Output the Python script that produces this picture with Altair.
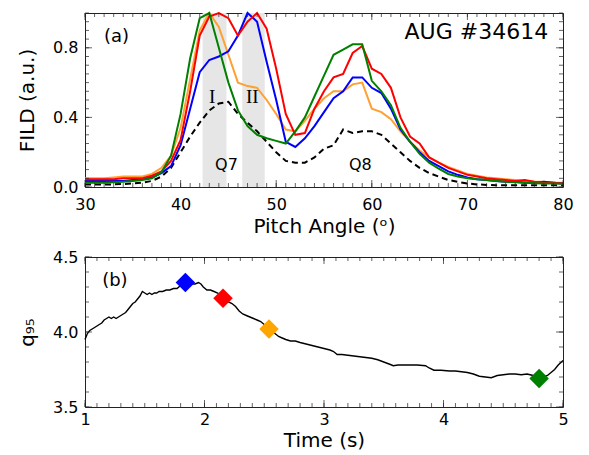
import altair as alt
import pandas as pd

# ---------------- data: panel (a) ----------------
pitch = list(range(30, 81))
blue = [0.035, 0.035, 0.035, 0.035, 0.035, 0.04, 0.045, 0.055, 0.08, 0.12,
        0.24, 0.45, 0.66, 0.73, 0.75, 0.78, 0.87, 1.0, 0.95, 0.72,
        0.5, 0.26, 0.23, 0.28, 0.35, 0.43, 0.51, 0.55, 0.63, 0.63,
        0.57, 0.54, 0.45, 0.33, 0.26, 0.2, 0.15, 0.12, 0.09, 0.07,
        0.055, 0.045, 0.04, 0.035, 0.03, 0.03, 0.025, 0.025, 0.03, 0.025, 0.02]
red = [0.045, 0.045, 0.045, 0.045, 0.05, 0.05, 0.05, 0.065, 0.09, 0.15,
       0.27, 0.55, 0.87, 0.98, 1.0, 0.97, 0.87, 0.95, 1.0, 0.91,
       0.68, 0.42, 0.3, 0.31, 0.45, 0.55, 0.63, 0.65, 0.77, 0.81,
       0.68, 0.65, 0.57, 0.4, 0.29, 0.25, 0.17, 0.14, 0.11, 0.09,
       0.07, 0.06, 0.05, 0.045, 0.04, 0.035, 0.04, 0.03, 0.025, 0.025, 0.02]
orange = [0.05, 0.05, 0.05, 0.055, 0.06, 0.06, 0.06, 0.075, 0.11, 0.18,
          0.34, 0.62, 0.9, 1.0, 0.92, 0.76, 0.6, 0.58, 0.57, 0.5,
          0.42, 0.33, 0.32, 0.38, 0.45, 0.51, 0.55, 0.55, 0.59, 0.6,
          0.45, 0.43, 0.39, 0.32, 0.26, 0.21, 0.17, 0.14, 0.115, 0.095,
          0.075, 0.065, 0.055, 0.05, 0.045, 0.04, 0.035, 0.03, 0.03, 0.025, 0.025]
green = [0.025, 0.025, 0.025, 0.028, 0.03, 0.035, 0.04, 0.05, 0.085, 0.18,
         0.42, 0.74, 0.97, 1.0, 0.8, 0.6, 0.44, 0.35, 0.3, 0.28,
         0.265, 0.25, 0.32, 0.4, 0.52, 0.64, 0.76, 0.79, 0.82, 0.82,
         0.61, 0.55, 0.47, 0.34, 0.26, 0.19, 0.14, 0.105, 0.075, 0.06,
         0.05, 0.045, 0.04, 0.035, 0.03, 0.028, 0.025, 0.022, 0.02, 0.02, 0.018]
model = [0.015, 0.015, 0.015, 0.015, 0.017, 0.02, 0.025, 0.035, 0.06, 0.11,
         0.2, 0.29, 0.37, 0.44, 0.48, 0.49, 0.42, 0.37, 0.32, 0.26,
         0.2, 0.15, 0.14, 0.14, 0.17, 0.22, 0.24, 0.33, 0.31, 0.32,
         0.32, 0.3, 0.25, 0.2, 0.15, 0.11, 0.08, 0.06, 0.04, 0.03,
         0.02, 0.015, 0.012, 0.01, 0.01, 0.01, 0.01, 0.01, 0.01, 0.01, 0.01]

series_names = ["orange", "blue", "red", "green"]
series_vals = [orange, blue, red, green]
series_colors = ["#ffa033", "#0000ff", "#ff0000", "#008000"]

band_lo = [42.3, 46.45]
band_hi = [44.8, 48.8]

ann_text = ["I", "II"]
ann_x = [43.3, 47.5]
ann_y = [0.52, 0.52]
q_text = ["Q7", "Q8"]
q_x = [44.8, 58.8]
q_y = [0.125, 0.125]

x1_major = [30, 40, 50, 60, 70, 80]
x1_minor = list(range(30, 81))
y1_major = [0.0, 0.4, 0.8]
y1_minor = [round(0.05 * i, 2) for i in range(0, 21)]

# ---------------- data: panel (b) ----------------
time_s = [1.00, 1.02, 1.04, 1.06, 1.08, 1.10, 1.12, 1.14, 1.16, 1.18,
          1.20, 1.22, 1.24, 1.26, 1.28, 1.30, 1.32, 1.34, 1.36, 1.38,
          1.40, 1.42, 1.44, 1.46, 1.48, 1.50, 1.52, 1.54, 1.56, 1.58,
          1.60, 1.62, 1.65, 1.68, 1.71, 1.74, 1.77, 1.80, 1.83, 1.86,
          1.89, 1.92, 1.95, 1.97, 1.99, 2.02, 2.05, 2.08, 2.11, 2.14,
          2.17, 2.20, 2.23, 2.26, 2.29, 2.32, 2.35, 2.38, 2.41, 2.44,
          2.47, 2.50, 2.53, 2.56, 2.59, 2.62, 2.65, 2.68, 2.72, 2.76,
          2.80, 2.85, 2.90, 2.95, 3.00, 3.05, 3.08, 3.11, 3.15, 3.20,
          3.30, 3.40, 3.45, 3.50, 3.55, 3.58, 3.62, 3.70, 3.78, 3.85,
          3.88, 3.92, 3.98, 4.05, 4.10, 4.15, 4.20, 4.25, 4.30, 4.35,
          4.40, 4.45, 4.50, 4.55, 4.60, 4.65, 4.70, 4.75, 4.80, 4.84,
          4.87, 4.90, 4.93, 4.96, 5.00]
q95 = [3.95, 3.99, 4.01, 4.02, 4.03, 4.04, 4.05, 4.06, 4.08, 4.09,
       4.10, 4.09, 4.10, 4.09, 4.10, 4.11, 4.12, 4.13, 4.15, 4.17,
       4.19, 4.20, 4.22, 4.24, 4.27, 4.26, 4.25, 4.26, 4.25, 4.26,
       4.26, 4.27, 4.27, 4.28, 4.28, 4.29, 4.29, 4.31, 4.31, 4.32,
       4.32, 4.32, 4.33, 4.32, 4.30, 4.28, 4.28, 4.27, 4.26, 4.24,
       4.22, 4.20, 4.19, 4.17, 4.14, 4.12, 4.11, 4.10, 4.09, 4.08,
       4.07, 4.05, 4.03, 4.01, 3.99, 3.97, 3.96, 3.95, 3.94, 3.94,
       3.93, 3.92, 3.91, 3.90, 3.89, 3.88, 3.87, 3.85, 3.85, 3.845,
       3.835, 3.825, 3.815, 3.80, 3.785, 3.775, 3.78, 3.78, 3.78, 3.775,
       3.76, 3.745, 3.745, 3.74, 3.74, 3.735, 3.73, 3.72, 3.705, 3.70,
       3.695, 3.71, 3.715, 3.72, 3.72, 3.715, 3.72, 3.71, 3.695, 3.70,
       3.71, 3.73, 3.75, 3.78, 3.81]

marker_t = [1.84, 2.155, 2.54, 4.80]
marker_q = [4.33, 4.225, 4.02, 3.69]
marker_c = ["#0000ff", "#ff0000", "#ffa500", "#008000"]

x2_major = [1, 2, 3, 4, 5]
x2_minor = [round(1 + 0.1 * i, 2) for i in range(0, 41)]
y2_major = [3.5, 4.0, 4.5]
y2_minor = [round(3.5 + 0.1 * i, 2) for i in range(0, 11)]

# ---------------- layout constants ----------------
W = 478
H1 = 174
H2 = 150
FONT = "DejaVu Sans"
FRAME = "#222222"

X1D, Y1D = [30, 80], [0.0, 1.0]
X2D, Y2D = [1, 5], [3.5, 4.5]
xs1 = alt.Scale(domain=X1D, nice=False, zero=False)
ys1 = alt.Scale(domain=Y1D, nice=False, zero=False)
xs2 = alt.Scale(domain=X2D, nice=False, zero=False)
ys2 = alt.Scale(domain=Y2D, nice=False, zero=False)

# identical axis definitions shared by every layer of a panel
AX1 = alt.Axis(orient="bottom", values=x1_major, format="d", ticks=False, domain=False,
               grid=False, labelPadding=9, labelFlush=False,
               title="Pitch Angle (ᵒ)", titlePadding=4)
AY1 = alt.Axis(orient="left", values=y1_major, format=".1f", ticks=False, domain=False,
               grid=False, labelPadding=7, labelFlush=False,
               title="FILD (a.u.)", titlePadding=15)
AX2 = alt.Axis(orient="bottom", values=x2_major, format="d", ticks=False, domain=False,
               grid=False, labelPadding=4, labelFlush=False,
               title="Time (s)", titlePadding=3)
AY2 = alt.Axis(orient="left", values=y2_major, format=".1f", ticks=False, domain=False,
               grid=False, labelPadding=7, labelFlush=False,
               title="q₉₅", titlePadding=15)


def tick_layers(xs, ys, ax, ay, xd, yd, xmaj, xmin, ymaj, ymin):
    """Inside tick marks on all four sides, drawn through the panel's scales."""
    out = []
    for xv, yv, size in [(xmin, ymin, 4), (xmaj, ymaj, 7)]:
        h = size / 2.0
        # bottom edge (pointing up) and top edge (pointing down)
        for edge, off in [(yd[0], -h), (yd[1], h)]:
            d = pd.DataFrame({"p": xv, "e": [edge] * len(xv)})
            out.append(alt.Chart(d).mark_tick(color=FRAME, thickness=1, size=size,
                                              orient="vertical", yOffset=off).encode(
                x=alt.X("p:Q", scale=xs, axis=ax), y=alt.Y("e:Q", scale=ys, axis=ay)))
        # left edge (pointing right) and right edge (pointing left)
        for edge, off in [(xd[0], h), (xd[1], -h)]:
            d = pd.DataFrame({"p": yv, "e": [edge] * len(yv)})
            out.append(alt.Chart(d).mark_tick(color=FRAME, thickness=1, size=size,
                                              orient="horizontal", xOffset=off).encode(
                y=alt.Y("p:Q", scale=ys, axis=ay), x=alt.X("e:Q", scale=xs, axis=ax)))
    return out


# ---------------- panel (a) ----------------
rows = []
for name, vals in zip(series_names, series_vals):
    for p, v in zip(pitch, vals):
        rows.append({"pa": p, "v": v, "s": name})
df_lines = pd.DataFrame(rows)
df_model = pd.DataFrame({"pa": pitch, "v": model})
df_band = pd.DataFrame({"lo": band_lo, "hi": band_hi, "y0": [0.0, 0.0], "y1": [1.0, 1.0]})

bands = alt.Chart(df_band).mark_rect(color="#e6e6e6").encode(
    x=alt.X("lo:Q", scale=xs1, axis=AX1), x2="hi:Q",
    y=alt.Y("y0:Q", scale=ys1, axis=AY1), y2="y1:Q")

model_line = alt.Chart(df_model).mark_line(color="black", strokeWidth=2, strokeDash=[6, 4]).encode(
    x=alt.X("pa:Q", scale=xs1, axis=AX1),
    y=alt.Y("v:Q", scale=ys1, axis=AY1),
)

line_layers = []
for name, col in zip(series_names, series_colors):
    line_layers.append(
        alt.Chart(df_lines[df_lines["s"] == name]).mark_line(color=col, strokeWidth=2).encode(
            x=alt.X("pa:Q", scale=xs1, axis=AX1),
            y=alt.Y("v:Q", scale=ys1, axis=AY1),
        )
    )


def text_layer(xs_, ys_, ax, ay, xv, yv, tv, **kw):
    d = pd.DataFrame({"x": xv, "y": yv, "t": tv})
    return alt.Chart(d).mark_text(color="black", **kw).encode(
        x=alt.X("x:Q", scale=xs_, axis=ax), y=alt.Y("y:Q", scale=ys_, axis=ay), text="t:N")


ann = text_layer(xs1, ys1, AX1, AY1, ann_x, ann_y, ann_text, font="Liberation Serif", fontSize=19)
qlab = text_layer(xs1, ys1, AX1, AY1, q_x, q_y, q_text, font=FONT, fontSize=16)
aug = text_layer(xs1, ys1, AX1, AY1, [78.45], [0.89], ["AUG #34614"], font=FONT, fontSize=22, align="right")
plab = text_layer(xs1, ys1, AX1, AY1, [33.3], [0.86], ["(a)"], font=FONT, fontSize=18)

top = alt.layer(
    bands, model_line, *line_layers, ann, qlab, aug, plab,
    *tick_layers(xs1, ys1, AX1, AY1, X1D, Y1D, x1_major, x1_minor, y1_major, y1_minor),
).properties(width=W, height=H1)

# ---------------- panel (b) ----------------
df_q95 = pd.DataFrame({"t": time_s, "q": q95})
df_mk = pd.DataFrame({"t": marker_t, "q": marker_q, "c": marker_c})

q_line = alt.Chart(df_q95).mark_line(color="black", strokeWidth=1.4).encode(
    x=alt.X("t:Q", scale=xs2, axis=AX2),
    y=alt.Y("q:Q", scale=ys2, axis=AY2),
)
markers = alt.Chart(df_mk).mark_point(shape="diamond", filled=True, size=380, opacity=1).encode(
    x=alt.X("t:Q", scale=xs2, axis=AX2), y=alt.Y("q:Q", scale=ys2, axis=AY2),
    color=alt.Color("c:N", scale=None))
blab = text_layer(xs2, ys2, AX2, AY2, [1.25], [4.34], ["(b)"], font=FONT, fontSize=18)

bottom = alt.layer(
    q_line, markers, blab,
    *tick_layers(xs2, ys2, AX2, AY2, X2D, Y2D, x2_major, x2_minor, y2_major, y2_minor),
).properties(width=W, height=H2)

chart = alt.vconcat(top, bottom, spacing=11).properties(
    padding={"left": 9, "top": 0, "right": 5, "bottom": 3}
).configure_view(stroke=FRAME, strokeWidth=1).configure_axis(
    labelFont=FONT, labelFontSize=16, labelColor="black",
    titleFont=FONT, titleFontSize=20, titleFontWeight="normal", titleColor="black",
)

chart.save("out.html", embed_options={"renderer": "svg", "actions": False})
